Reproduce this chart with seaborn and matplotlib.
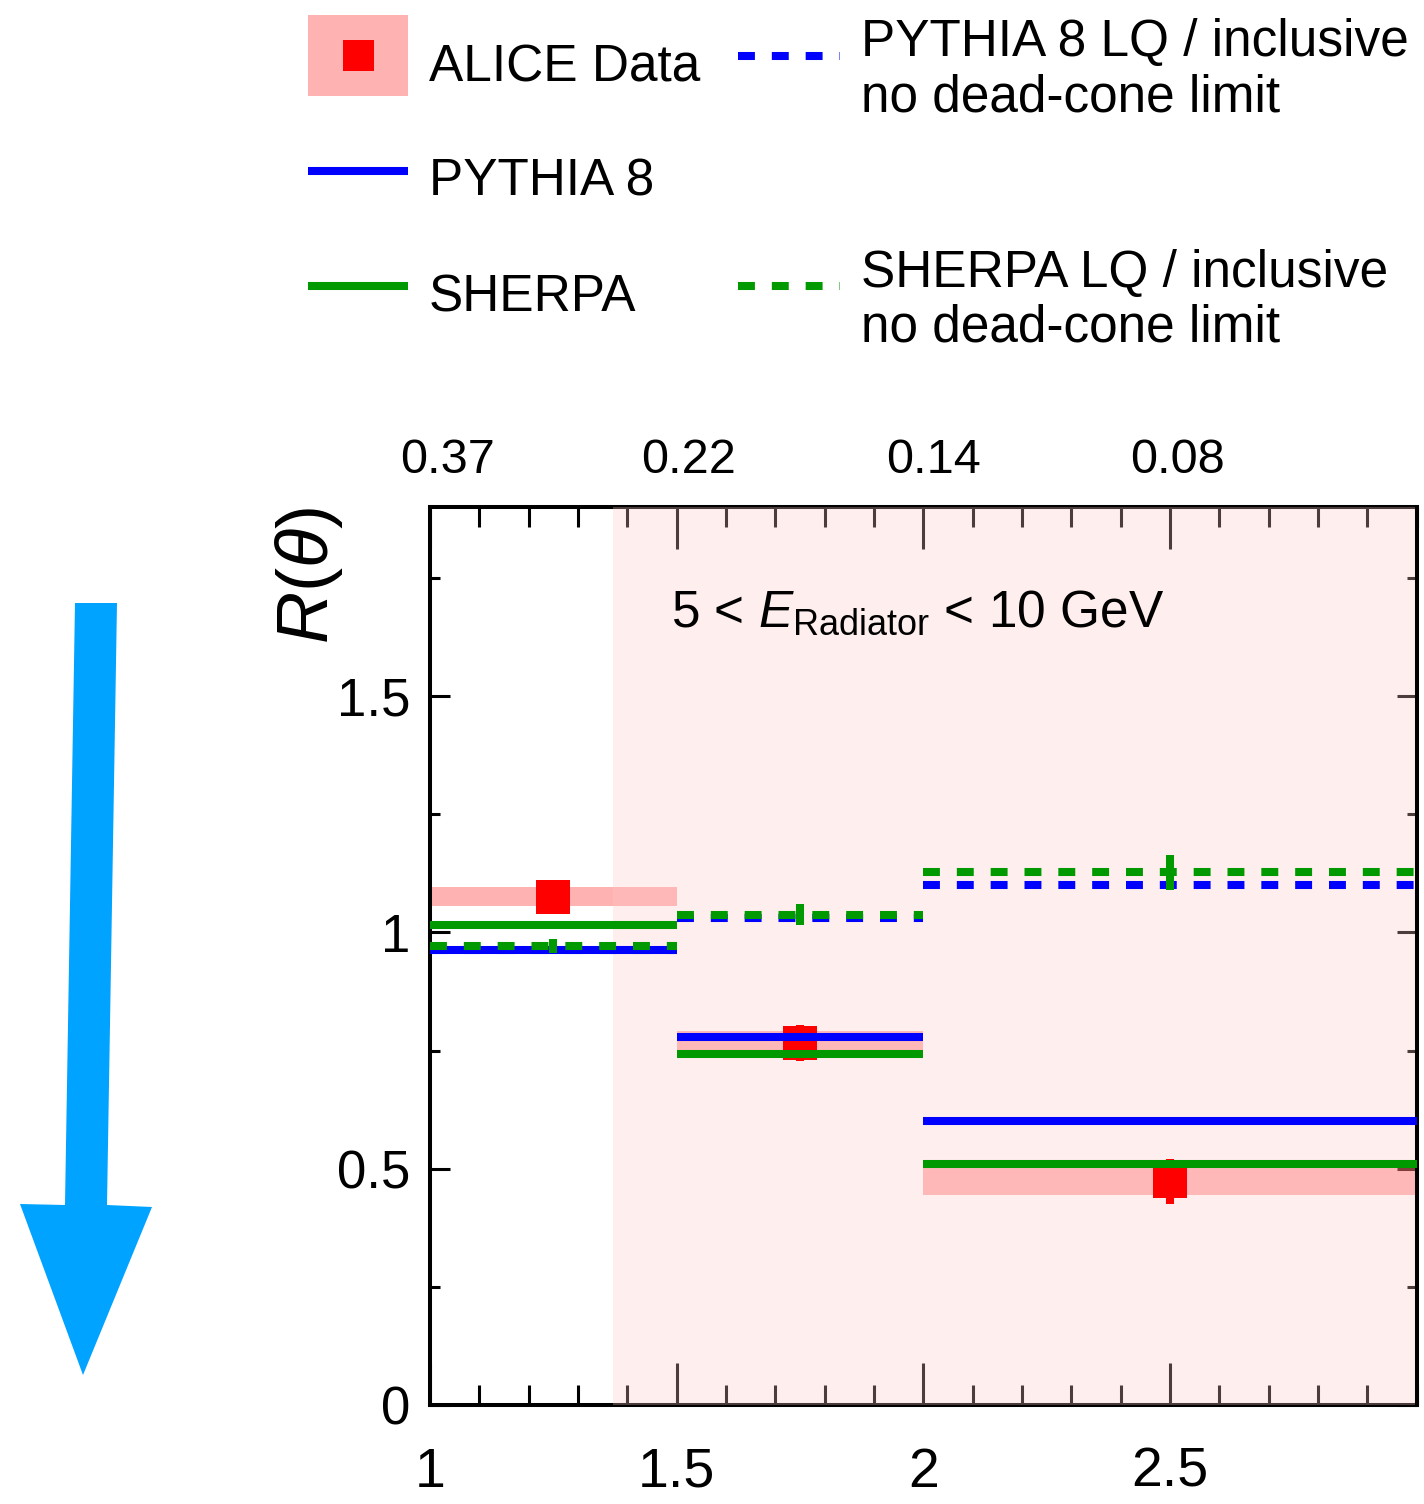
import matplotlib
matplotlib.use("Agg")
import matplotlib.pyplot as plt
import numpy as np
import pandas as pd
import seaborn as sns
from matplotlib.lines import Line2D
from matplotlib.patches import Rectangle, Polygon
from matplotlib.ticker import MultipleLocator, FixedLocator, FuncFormatter

# ---- binning in ln(1/theta) ----
bin_lo = [1.0, 1.5, 2.0]
bin_hi = [1.5, 2.0, 3.0]
bin_mid = [1.25, 1.75, 2.5]

# ---- ALICE data: value, statistical and systematic uncertainty ----
data_val = [1.075, 0.765, 0.473]
data_stat = [0.030, 0.038, 0.048]
data_sys = [0.020, 0.027, 0.029]

# ---- MC predictions ----
pythia = [0.963, 0.778, 0.600]
sherpa = [1.016, 0.743, 0.510]
pythia_lq = [0.962, 1.030, 1.101]
sherpa_lq = [0.972, 1.037, 1.127]
sherpa_lq_err = [0.015, 0.022, 0.037]

# ---- secondary axis (theta) ----
theta_labels = ["0.37", "0.22", "0.14", "0.08"]
theta_pos = [1.035, 1.525, 2.02, 2.515]

# start of the shaded dead-cone region
dead_cone_start = 1.37

# ---- style ----
sns.set_style("ticks")
plt.rcParams["font.family"] = ["Liberation Sans", "DejaVu Sans"]
plt.rcParams["mathtext.fontset"] = "custom"
plt.rcParams["mathtext.rm"] = "Liberation Sans"
plt.rcParams["mathtext.it"] = "Liberation Sans:italic"
plt.rcParams["mathtext.bf"] = "Liberation Sans:bold"
for key in ["text.color", "axes.labelcolor", "xtick.color", "ytick.color",
            "xtick.labelcolor", "ytick.labelcolor", "axes.edgecolor"]:
    plt.rcParams[key] = "black"

W, H, DPI = 1424, 1504, 100
LW = 5.8
DASH = (0, (2.1, 2.1))
BLUE, GREEN, RED = "#0000ff", "#009900", "#ff0000"

fig = plt.figure(figsize=(W / DPI, H / DPI), dpi=DPI)
ax = fig.add_axes([430 / W, 1 - 1405 / H, (1416.5 - 430) / W, (1405 - 507) / H])


def seg_frame(vals):
    xs, ys, ids = [], [], []
    for i, (lo, hi, v) in enumerate(zip(bin_lo, bin_hi, vals)):
        xs += [lo, hi]
        ys += [v, v]
        ids += [i, i]
    return pd.DataFrame({"x": xs, "y": ys, "bin": ids})


# systematic band of the data
ax.bar(bin_lo, [2 * s for s in data_sys],
       bottom=[v - s for v, s in zip(data_val, data_sys)],
       width=[hi - lo for lo, hi in zip(bin_lo, bin_hi)], align="edge",
       color=RED, alpha=0.3, linewidth=0, zorder=2)

# shaded region
ax.axvspan(dead_cone_start, 3.0, facecolor=(1.0, 0.785, 0.785),
           alpha=0.3, lw=0, zorder=2.6, clip_on=False)

# data points
ax.errorbar(bin_mid, data_val, yerr=data_stat, fmt="none", ecolor=RED,
            elinewidth=LW, capsize=0, zorder=3.4)
sns.scatterplot(x=bin_mid, y=data_val, marker="s", s=24 ** 2, color=RED,
                linewidth=0, zorder=3.5, ax=ax)

# MC histograms
sns.lineplot(data=seg_frame(pythia), x="x", y="y", units="bin", estimator=None,
             color=BLUE, lw=LW, solid_capstyle="butt", zorder=4, ax=ax)
sns.lineplot(data=seg_frame(sherpa), x="x", y="y", units="bin", estimator=None,
             color=GREEN, lw=LW, solid_capstyle="butt", zorder=4.1, ax=ax)
sns.lineplot(data=seg_frame(pythia_lq), x="x", y="y", units="bin", estimator=None,
             color=BLUE, lw=LW, linestyle=DASH, dash_capstyle="butt", zorder=4.2, ax=ax)
sns.lineplot(data=seg_frame(sherpa_lq), x="x", y="y", units="bin", estimator=None,
             color=GREEN, lw=LW, linestyle=DASH, dash_capstyle="butt", zorder=4.3, ax=ax)
ax.errorbar(bin_mid, sherpa_lq, yerr=sherpa_lq_err, fmt="none", ecolor=GREEN,
            elinewidth=LW, capsize=0, zorder=4.3)

# axes
ax.set_xlim(1, 3)
ax.set_ylim(0, 1.9)
ax.set_xlabel("")
ax.xaxis.set_major_locator(FixedLocator([1, 1.5, 2, 2.5]))
ax.xaxis.set_minor_locator(MultipleLocator(0.1))
ax.yaxis.set_major_locator(MultipleLocator(0.5))
ax.yaxis.set_minor_locator(MultipleLocator(0.25))
fmt = FuncFormatter(lambda v, p: f"{v:g}")
ax.xaxis.set_major_formatter(fmt)
ax.yaxis.set_major_formatter(fmt)
ax.tick_params(axis="both", which="both", direction="in", top=True, right=True,
               color="black", labelcolor="black", width=2.2)
ax.tick_params(axis="x", which="major", length=30, labelsize=40, pad=30)
ax.tick_params(axis="x", which="minor", length=14.4)
ax.tick_params(axis="y", which="major", length=14.4, labelsize=38, pad=14)
ax.tick_params(axis="y", which="minor", length=7.2)
for side, sp in ax.spines.items():
    sp.set_linewidth(2.9)
    sp.set_color("black")
ax.spines["right"].set_zorder(2.7)

ax.set_ylabel(r"$R(\theta)$", fontsize=52, loc="top", color="black")
ax.yaxis.set_label_coords(-0.086, 1.0)

# theta labels on top
sec = ax.secondary_xaxis("top")
sec.set_xticks(theta_pos, labels=theta_labels)
sec.tick_params(length=0, labelsize=35, pad=17, labelcolor="black")
sec.spines["top"].set_visible(False)
sec.xaxis.set_minor_locator(FixedLocator([]))

ax.text(1.488, 1.648, r"5 < $E_{\mathrm{Radiator}}$ < 10 GeV", fontsize=37,
        va="baseline", ha="left", color="black", zorder=5)


# ---- legend ----
def fx(px):
    return px / W


def fy(py):
    return 1 - py / H


tf = fig.transFigure
fig.add_artist(Rectangle((fx(308), fy(96)), fx(408) - fx(308), fy(15) - fy(96),
                         transform=tf, facecolor=RED, alpha=0.3, lw=0))
fig.add_artist(Rectangle((fx(342.5), fy(71)), fx(373.5) - fx(342.5), fy(40) - fy(71),
                         transform=tf, facecolor=RED, lw=0))
fig.add_artist(Line2D([fx(308), fx(408)], [fy(171), fy(171)], transform=tf,
                      color=BLUE, lw=LW, solid_capstyle="butt"))
fig.add_artist(Line2D([fx(308), fx(408)], [fy(286), fy(286)], transform=tf,
                      color=GREEN, lw=LW, solid_capstyle="butt"))
fig.add_artist(Line2D([fx(738), fx(840)], [fy(56), fy(56)], transform=tf,
                      color=BLUE, lw=LW, linestyle=DASH, dash_capstyle="butt"))
fig.add_artist(Line2D([fx(738), fx(840)], [fy(286), fy(286)], transform=tf,
                      color=GREEN, lw=LW, linestyle=DASH, dash_capstyle="butt"))

LEG_FS = 37
for px, py, txt in [(429, 81, "ALICE Data"), (429, 195, "PYTHIA 8"), (429, 311, "SHERPA"),
                    (861, 56, "PYTHIA 8 LQ / inclusive"), (861, 111, "no dead-cone limit"),
                    (861, 287, "SHERPA LQ / inclusive"), (861, 342, "no dead-cone limit")]:
    fig.text(fx(px), fy(py), txt, fontsize=LEG_FS, ha="left", va="baseline", color="black")

# ---- arrow ----
arrow_px = [(75, 603), (117, 603), (107, 1205), (152, 1207), (83, 1375), (20, 1204), (65, 1205)]
fig.add_artist(Polygon([(fx(x), fy(y)) for x, y in arrow_px], closed=True,
                       transform=tf, facecolor="#00a3ff", edgecolor="none"))

fig.savefig("out.png", dpi=DPI)
